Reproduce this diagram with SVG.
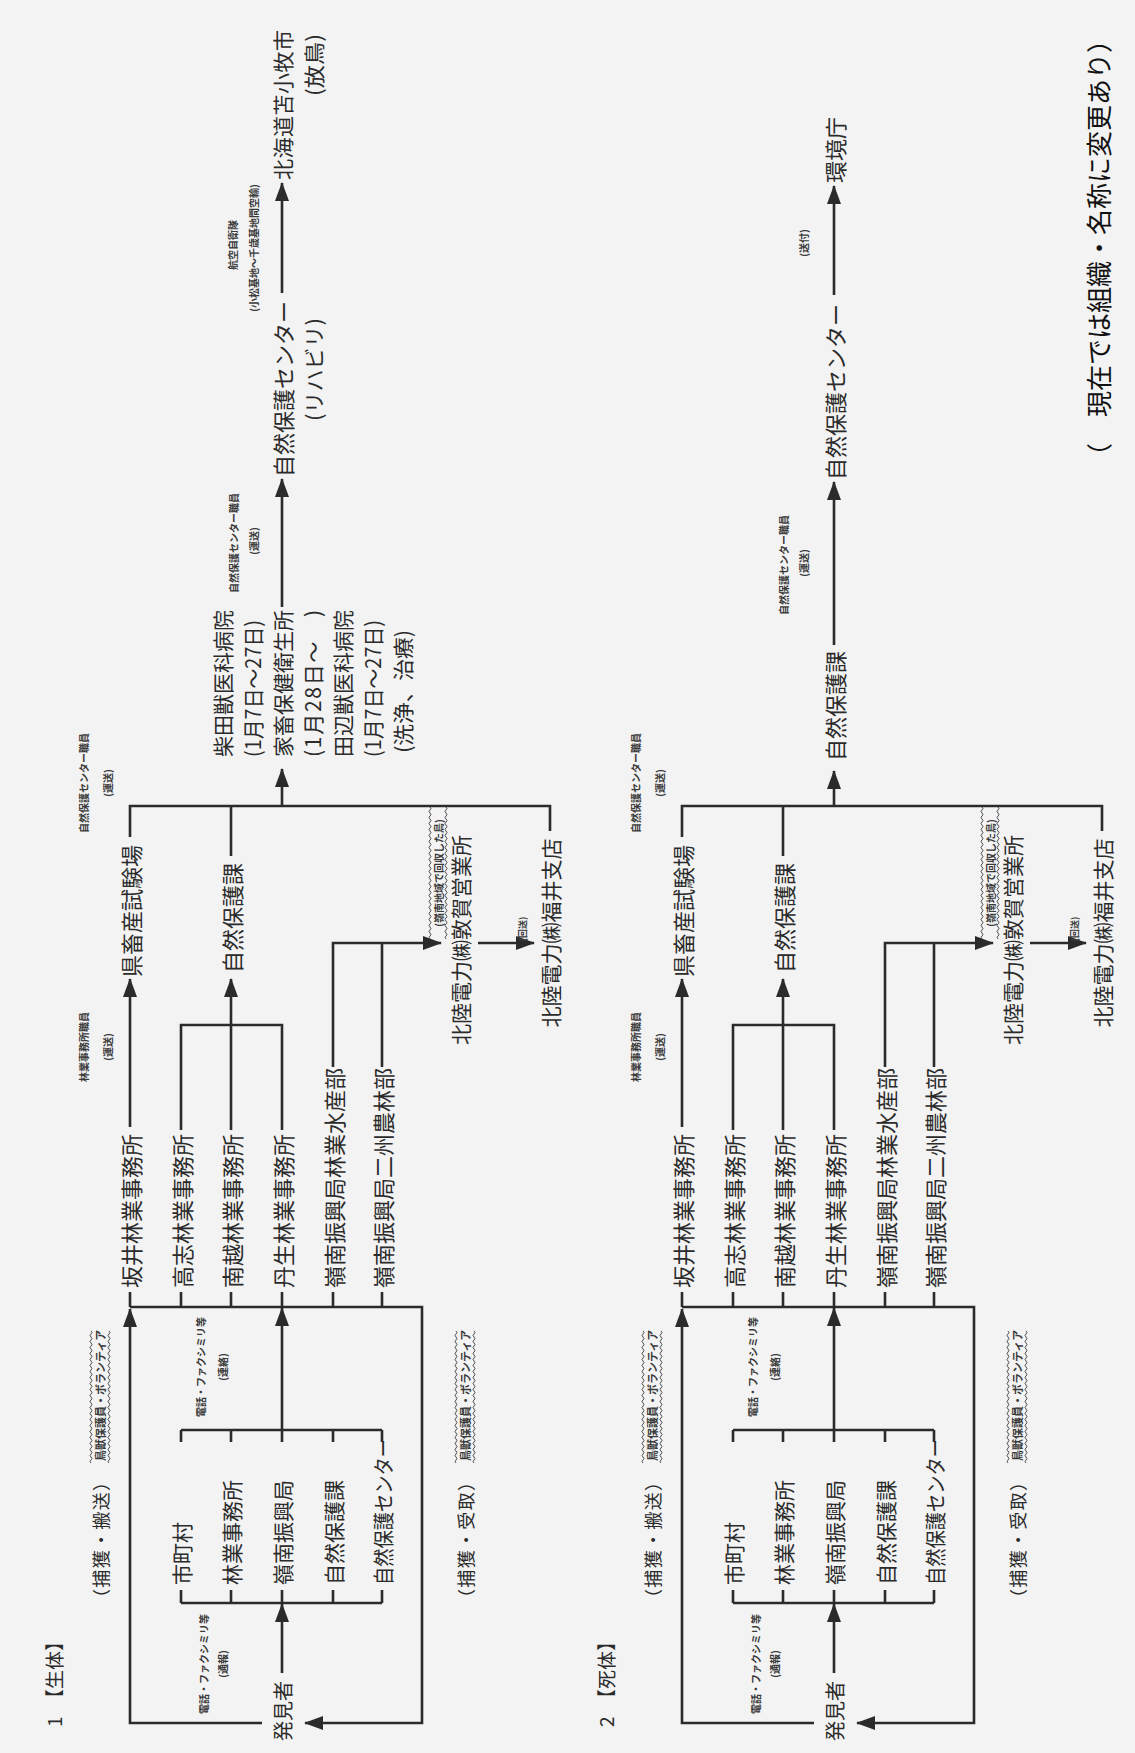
<svg xmlns="http://www.w3.org/2000/svg" width="1135" height="1753" viewBox="0 0 1135 1753">
<style>
text{font-family:"Noto Sans CJK JP","Noto Sans CJK SC",sans-serif;fill:#2b2b2b;dominant-baseline:central}
.L{font-size:22px}
.M{font-size:21px}
.F{font-size:20px}
.T{font-size:19px}
.C{font-size:18px}
.S{font-size:10px;font-weight:bold;fill:#3a3a3a}
.W{font-size:11px;font-weight:bold;fill:#3a3a3a}
.N{font-size:26px;fill:#111}
.ln{fill:none;stroke:#2b2b2b;stroke-width:2.6}
.ar{fill:none;stroke:#2b2b2b;stroke-width:2.6;marker-end:url(#ah)}
.wv{fill:none;stroke:#3a3a3a;stroke-width:0.9}
</style>
<defs>
<marker id="ah" markerUnits="userSpaceOnUse" markerWidth="20" markerHeight="14" refX="18" refY="7" orient="auto"><path d="M0,0 L19,7 L0,14 z" fill="#2b2b2b"/></marker>
<path id="wv" class="wv" d="M0,0q1.5,-2 3,0t3,0t3,0t3,0t3,0t3,0t3,0t3,0t3,0t3,0t3,0t3,0t3,0t3,0t3,0t3,0t3,0t3,0t3,0t3,0t3,0t3,0t3,0t3,0t3,0t3,0t3,0t3,0t3,0t3,0t3,0t3,0t3,0t3,0t3,0t3,0t3,0t3,0t3,0t3,0t3,0t3,0t3,0t3,0"/>
</defs>
<rect x="0" y="0" width="1135" height="1753" fill="#f3f3f3"/>
<g transform="translate(0,1753) rotate(-90)">

<!-- ===== Diagram 1 ===== -->
<g id="d1">
<g id="d1-connectors">
<path class="ar" d="M30,262 V130 H444"/>
<path class="ar" d="M446,130 V422 H30 V305"/>
<path class="ar" d="M80,282 H149"/>
<path class="ln" d="M150,181 V382 M150,181 H163 M150,231 H163 M150,282 H163 M150,333 H163 M150,382 H163"/>
<path class="ln" d="M323,181 V382 M311,181 H323 M311,231 H323 M311,282 H323 M311,333 H323 M311,382 H323"/>
<path class="ar" d="M323,282 H445"/>
<path class="ln" d="M446,130 H461 M446,181 H461 M446,231 H461 M446,282 H461 M446,333 H461 M446,382 H461"/>
<path class="ar" d="M626,130 H774"/>
<path class="ln" d="M623,181 H728 V282 H623"/>
<path class="ar" d="M623,231 H774"/>
<path class="ar" d="M686,333 H810 V441"/>
<path class="ln" d="M686,382 H810"/>
<path class="ar" d="M810,478 V534"/>
<path class="ln" d="M916,130 H947 V550 H922 M897,231 H947"/>
<path class="ar" d="M947,282 H984"/>
<path class="ar" d="M1146,282 H1274"/>
<path class="ar" d="M1460,282 H1570"/>
</g>
<g id="d1-title"><text class="T" x="26" y="53">1</text><text class="T" x="45" y="53">【生体】</text></g>
<g id="d1-capture"><text class="C" x="146" y="100" textLength="134" lengthAdjust="spacing">（捕獲・搬送）</text><text class="W" x="292" y="100">鳥獣保護員・ボランティア</text><use href="#wv" x="290" y="91"/><use href="#wv" x="290" y="109"/></g>
<g id="d1-receive"><text class="C" x="146" y="465" textLength="134" lengthAdjust="spacing">（捕獲・受取）</text><text class="W" x="292" y="465">鳥獣保護員・ボランティア</text><use href="#wv" x="290" y="456"/><use href="#wv" x="290" y="474"/></g>
<g id="d1-finder"><text class="F" x="12" y="282">発見者</text></g>
<g id="d1-note-report"><text class="S" x="89" y="203" text-anchor="middle">電話・ファクシミリ等</text><text class="S" x="89" y="222" text-anchor="middle">(通報)</text></g>
<g id="d1-shichoson"><text class="M" x="168" y="181">市町村</text></g>
<g id="d1-ringyo"><text class="M" x="168" y="231">林業事務所</text></g>
<g id="d1-reinan"><text class="M" x="168" y="282">嶺南振興局</text></g>
<g id="d1-shizenka"><text class="M" x="168" y="333">自然保護課</text></g>
<g id="d1-center-a"><text class="M" x="168" y="382" textLength="146" lengthAdjust="spacingAndGlyphs">自然保護センター</text></g>
<g id="d1-note-contact"><text class="S" x="386" y="200" text-anchor="middle">電話・ファクシミリ等</text><text class="S" x="386" y="222" text-anchor="middle">(連絡)</text></g>
<g id="d1-sakai"><text class="L" x="465" y="130">坂井林業事務所</text></g>
<g id="d1-takashi"><text class="L" x="465" y="181">高志林業事務所</text></g>
<g id="d1-nanetsu"><text class="L" x="465" y="231">南越林業事務所</text></g>
<g id="d1-nyu"><text class="L" x="465" y="282">丹生林業事務所</text></g>
<g id="d1-suisan"><text class="L" x="465" y="333">嶺南振興局林業水産部</text></g>
<g id="d1-nishu"><text class="L" x="465" y="382">嶺南振興局二州農林部</text></g>
<g id="d1-note-ringyo"><text class="S" x="706" y="83" text-anchor="middle">林業事務所職員</text><text class="S" x="706" y="107" text-anchor="middle">(運送)</text></g>
<g id="d1-chikusan"><text class="L" x="776" y="130">県畜産試験場</text></g>
<g id="d1-shizenka2"><text class="L" x="780" y="231">自然保護課</text></g>
<g id="d1-note-busd"><text class="S" x="970" y="83" text-anchor="middle">自然保護センター職員</text><text class="S" x="970" y="107" text-anchor="middle">(運送)</text></g>
<g id="d1-tsuruga"><text class="M" x="813" y="460" text-anchor="middle">北陸電力㈱敦賀営業所</text><text class="S" x="880" y="438" text-anchor="middle">(嶺南地域で回収した鳥)</text><use href="#wv" x="814" y="430"/><use href="#wv" x="814" y="446"/></g>
<g id="d1-note-kaiso"><text class="S" x="824" y="522" text-anchor="middle" style="font-size:9px">(回送)</text></g>
<g id="d1-fukui"><text class="M" x="820" y="550" text-anchor="middle">北陸電力㈱福井支店</text></g>
<g id="d1-hospital">
<text class="M" x="996" y="222">柴田獣医科病院</text>
<text class="M" x="996" y="252" textLength="137" lengthAdjust="spacingAndGlyphs">(1月7日～27日)</text>
<text class="M" x="996" y="282">家畜保健衛生所</text>
<text class="M" x="996" y="312" textLength="147" lengthAdjust="spacing">(1月28日～　)</text>
<text class="M" x="996" y="342">田辺獣医科病院</text>
<text class="M" x="996" y="372" textLength="137" lengthAdjust="spacingAndGlyphs">(1月7日～27日)</text>
<text class="M" x="1000" y="402" textLength="123" lengthAdjust="spacingAndGlyphs">(洗浄、治療)</text>
</g>
<g id="d1-note-hosp"><text class="S" x="1210" y="233" text-anchor="middle">自然保護センター職員</text><text class="S" x="1212" y="253" text-anchor="middle">(運送)</text></g>
<g id="d1-center"><text class="L" x="1276" y="282">自然保護センター</text><text class="M" x="1332" y="313" textLength="103" lengthAdjust="spacingAndGlyphs">(リハビリ)</text></g>
<g id="d1-note-air"><text class="S" x="1508" y="232" text-anchor="middle">航空自衛隊</text><text class="S" x="1505" y="253" text-anchor="middle">(小松基地～千歳基地間空輸)</text></g>
<g id="d1-tomakomai"><text class="M" x="1573" y="282" textLength="150" lengthAdjust="spacing">北海道苫小牧市</text><text class="M" x="1657" y="313" textLength="62" lengthAdjust="spacingAndGlyphs">(放鳥)</text></g>
</g>

<!-- ===== Diagram 2 ===== -->
<g id="d2" transform="translate(0,552)">
<g id="d2-connectors">
<path class="ar" d="M30,262 V130 H444"/>
<path class="ar" d="M446,130 V422 H30 V305"/>
<path class="ar" d="M80,282 H149"/>
<path class="ln" d="M150,181 V382 M150,181 H163 M150,231 H163 M150,282 H163 M150,333 H163 M150,382 H163"/>
<path class="ln" d="M323,181 V382 M311,181 H323 M311,231 H323 M311,282 H323 M311,333 H323 M311,382 H323"/>
<path class="ar" d="M323,282 H445"/>
<path class="ln" d="M446,130 H461 M446,181 H461 M446,231 H461 M446,282 H461 M446,333 H461 M446,382 H461"/>
<path class="ar" d="M626,130 H774"/>
<path class="ln" d="M623,181 H728 V282 H623"/>
<path class="ar" d="M623,231 H774"/>
<path class="ar" d="M686,333 H810 V441"/>
<path class="ln" d="M686,382 H810"/>
<path class="ar" d="M810,478 V534"/>
<path class="ln" d="M916,130 H947 V550 H922 M897,231 H947"/>
<path class="ar" d="M947,282 H982"/>
<path class="ar" d="M1108,282 H1271"/>
<path class="ar" d="M1458,282 H1567"/>
</g>
<g id="d2-title"><text class="T" x="26" y="53">2</text><text class="T" x="45" y="53">【死体】</text></g>
<g id="d2-capture"><text class="C" x="146" y="100" textLength="134" lengthAdjust="spacing">（捕獲・搬送）</text><text class="W" x="292" y="100">鳥獣保護員・ボランティア</text><use href="#wv" x="290" y="91"/><use href="#wv" x="290" y="109"/></g>
<g id="d2-receive"><text class="C" x="146" y="465" textLength="134" lengthAdjust="spacing">（捕獲・受取）</text><text class="W" x="292" y="465">鳥獣保護員・ボランティア</text><use href="#wv" x="290" y="456"/><use href="#wv" x="290" y="474"/></g>
<g id="d2-finder"><text class="F" x="12" y="282">発見者</text></g>
<g id="d2-note-report"><text class="S" x="89" y="203" text-anchor="middle">電話・ファクシミリ等</text><text class="S" x="89" y="222" text-anchor="middle">(通報)</text></g>
<g id="d2-shichoson"><text class="M" x="168" y="181">市町村</text></g>
<g id="d2-ringyo"><text class="M" x="168" y="231">林業事務所</text></g>
<g id="d2-reinan"><text class="M" x="168" y="282">嶺南振興局</text></g>
<g id="d2-shizenka"><text class="M" x="168" y="333">自然保護課</text></g>
<g id="d2-center-a"><text class="M" x="168" y="382" textLength="146" lengthAdjust="spacingAndGlyphs">自然保護センター</text></g>
<g id="d2-note-contact"><text class="S" x="386" y="200" text-anchor="middle">電話・ファクシミリ等</text><text class="S" x="386" y="222" text-anchor="middle">(連絡)</text></g>
<g id="d2-sakai"><text class="L" x="465" y="130">坂井林業事務所</text></g>
<g id="d2-takashi"><text class="L" x="465" y="181">高志林業事務所</text></g>
<g id="d2-nanetsu"><text class="L" x="465" y="231">南越林業事務所</text></g>
<g id="d2-nyu"><text class="L" x="465" y="282">丹生林業事務所</text></g>
<g id="d2-suisan"><text class="L" x="465" y="333">嶺南振興局林業水産部</text></g>
<g id="d2-nishu"><text class="L" x="465" y="382">嶺南振興局二州農林部</text></g>
<g id="d2-note-ringyo"><text class="S" x="706" y="83" text-anchor="middle">林業事務所職員</text><text class="S" x="706" y="107" text-anchor="middle">(運送)</text></g>
<g id="d2-chikusan"><text class="L" x="776" y="130">県畜産試験場</text></g>
<g id="d2-shizenka2"><text class="L" x="780" y="231">自然保護課</text></g>
<g id="d2-note-busd"><text class="S" x="970" y="83" text-anchor="middle">自然保護センター職員</text><text class="S" x="970" y="107" text-anchor="middle">(運送)</text></g>
<g id="d2-tsuruga"><text class="M" x="813" y="460" text-anchor="middle">北陸電力㈱敦賀営業所</text><text class="S" x="880" y="438" text-anchor="middle">(嶺南地域で回収した鳥)</text><use href="#wv" x="814" y="430"/><use href="#wv" x="814" y="446"/></g>
<g id="d2-note-kaiso"><text class="S" x="824" y="522" text-anchor="middle" style="font-size:9px">(回送)</text></g>
<g id="d2-fukui"><text class="M" x="820" y="550" text-anchor="middle">北陸電力㈱福井支店</text></g>
<g id="d2-shizenka3"><text class="L" x="992" y="282">自然保護課</text></g>
<g id="d2-note-ka"><text class="S" x="1188" y="231" text-anchor="middle">自然保護センター職員</text><text class="S" x="1190" y="251" text-anchor="middle">(運送)</text></g>
<g id="d2-center"><text class="L" x="1273" y="282">自然保護センター</text></g>
<g id="d2-note-send"><text class="S" x="1510" y="251" text-anchor="middle">(送付)</text></g>
<g id="d2-kankyo"><text class="L" x="1570" y="282">環境庁</text></g>
</g>

<g id="note"><text class="N" x="1284" y="1097">（　現在では組織・名称に変更あり）</text></g>
</g>
</svg>
